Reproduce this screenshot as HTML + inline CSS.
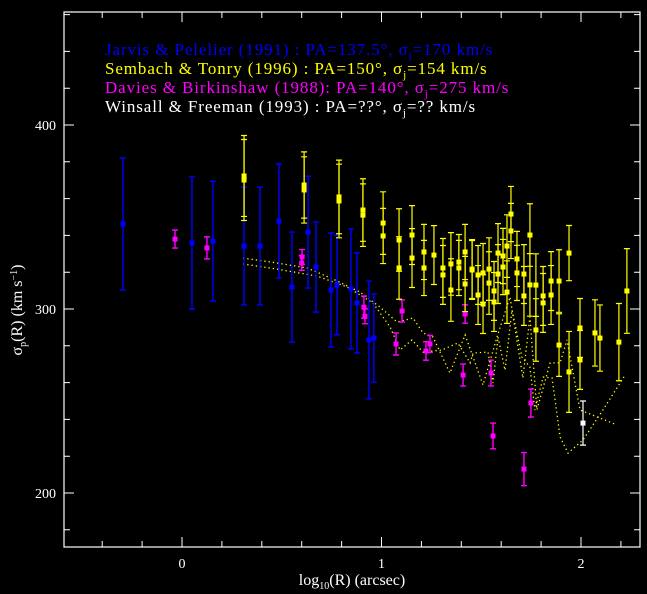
<!DOCTYPE html>
<html><head><meta charset="utf-8"><style>
html,body{margin:0;padding:0;background:#000;}
svg{display:block;font-family:"Liberation Serif",serif;}
</style></head><body>
<svg id="chart" width="647" height="594" viewBox="0 0 647 594" xmlns="http://www.w3.org/2000/svg">
<rect x="0" y="0" width="647" height="594" fill="#000"/>
<g id="axes"></g>
<g id="models"></g>
<g id="points"></g>
<g font-size="17" letter-spacing="0.9">
<text x="105" y="55" fill="#0000ff">Jarvis &amp; Pelelier (1991) : PA=137.5°, σ<tspan font-size="11" dy="4">j</tspan><tspan dy="-4">=170 km/s</tspan></text>
<text x="105" y="74" fill="#ffff00">Sembach &amp; Tonry (1996) : PA=150°, σ<tspan font-size="11" dy="4">j</tspan><tspan dy="-4">=154 km/s</tspan></text>
<text x="105" y="93" fill="#ff00ff">Davies &amp; Birkinshaw (1988): PA=140°, σ<tspan font-size="11" dy="4">j</tspan><tspan dy="-4">=275 km/s</tspan></text>
<text x="105" y="112" fill="#ffffff">Winsall &amp; Freeman (1993) : PA=??°, σ<tspan font-size="11" dy="4">j</tspan><tspan dy="-4">=?? km/s</tspan></text>
</g>
<text x="352" y="585" fill="#fff" font-size="16" text-anchor="middle">log<tspan font-size="10" dy="4">10</tspan><tspan dy="-4">(R) (arcsec)</tspan></text>
<text transform="translate(22,310) rotate(-90)" fill="#fff" font-size="16" text-anchor="middle">σ<tspan font-size="10" dy="4">p</tspan><tspan dy="-4">(R) (km s</tspan><tspan font-size="10" dy="-5">−1</tspan><tspan dy="5">)</tspan></text>
</svg>
<script>
const xTicks=[0,1,2];
const yTicks=[200,300,400];
// Jarvis & Pelletier (blue): x, sigma, error
const blueX=[-0.296,0.05,0.155,0.311,0.391,0.486,0.551,0.632,0.672,0.747,0.777,0.847,0.877,0.937,0.962];
const blueY=[346.2,335.9,336.9,334.2,334.2,347.8,311.9,341.8,322.8,310.3,313,310.9,303.3,283.2,284.2];
const blueE=[35.9,35.9,32.6,32,32,31,29.9,30.4,24.5,31,27,32.6,27.2,32,24];
// Davies & Birkinshaw (magenta)
const magX=[-0.035,0.125,0.602,0.6,0.912,0.917,1.073,1.103,1.223,1.243,1.409,1.419,1.549,1.559,1.714,1.749];
const magY=[338,333.2,328.3,325,301,296,281,298.9,277.2,281,264.1,297.3,265.2,231,213,248.9];
const magE=[4.9,6,4,4,6,4,6,6,5,4.6,6,5,7,7,9,7.6];
// Sembach & Tonry (yellow)
const yelX=[0.311,0.311,0.612,0.612,0.787,0.787,0.907,0.907,1.008,1.008,1.088,1.088,1.153,1.153,1.213,1.213,1.263,1.308,1.308,1.348,1.348,1.388,1.388,1.419,1.419,1.454,1.454,1.484,1.484,1.509,1.509,1.539,1.539,1.564,1.564,1.584,1.584,1.609,1.609,1.629,1.629,1.649,1.649,1.679,1.679,1.714,1.714,1.744,1.744,1.774,1.774,1.81,1.81,1.85,1.85,1.89,1.89,1.94,1.94,1.995,1.995,2.07,2.095,2.19,2.23];
const yelY=[372.3,370.1,367.4,364.7,360.9,358.7,353.8,351,346.7,339.7,337.5,322.3,340.2,327.7,331,322.3,329.3,322.3,318.5,324.5,310.3,325.5,322.3,331,313.6,321.7,321.2,318.5,307.6,319.6,302.7,321.7,314.1,309.8,303.8,330.4,319,328.8,322.8,334.2,309.2,351.6,342.4,327.2,319.6,319,307.1,340.2,313.1,313,288.6,307.1,303.3,315.2,307.6,315.2,280.4,330.4,265.8,289.7,272.3,287,284.2,282,309.8];
const yelE=[22,22,18,18,20,20,17,17,17,15,17,17,16,16,15,15,16,16,16,17,17,15,15,15,15,16,16,16,16,16,16,17,17,16,16,16,16,15,15,17,17,15,15,15,15,16,16,17,17,17,17,16,16,16,16,17,17,15,22,16,16,18,18,21,23];
// Winsall & Freeman (white)
const whiX=[2.01];
const whiY=[238];
const whiE=[12];
// model curves (dotted)
const m1X=[0.306,0.476,0.627,0.757,0.892,0.992,1.078,1.158,1.208,1.258,1.343,1.419,1.509,1.579,1.644,1.709,1.744,1.779,1.845,1.895,1.93,1.995,2.18];
const m1Y=[327.7,325,322.3,316.3,309.2,301.1,292.9,295.1,287,284.8,265.2,285.9,258.7,284.8,306.5,262.5,295.7,245.1,270.7,270.7,283.2,245.1,237];
const m2X=[0.306,0.476,0.677,0.827,0.957,1.043,1.093,1.153,1.208,1.303,1.383,1.444,1.459,1.534,1.559,1.584,1.619,1.654,1.704,1.744,1.769,1.81,1.855,1.895,1.935,2.01,2.11,2.221];
const m2Y=[324.5,321.7,317.9,312,303.3,290.2,277.7,283.2,276.6,277.7,281.5,270.7,276.1,276.6,259.8,284.8,266.8,299.5,273.9,268.5,245.1,263,262.5,230.4,221.7,228.8,245.1,264.1];

const L=64,R=640,T=12,B=547;
const X0=182,XS=199.5,Y0=309,YS=1.84;
function sx(v){return X0+v*XS;}
function sy(v){return Y0-(v-300)*YS;}
const NS='http://www.w3.org/2000/svg';
function mk(tag,attrs,parent){const e=document.createElementNS(NS,tag);for(const k in attrs)e.setAttribute(k,attrs[k]);parent.appendChild(e);return e;}
const axes=document.getElementById('axes');
const frame=mk('rect',{x:L,y:T,width:R-L,height:B-T,fill:'none',stroke:'#fff','stroke-width':1.2},axes);


for(let v=-0.4;v<=2.3;v+=0.2){const p=sx(v);if(p<L||p>R)continue;const major=Math.abs(v-Math.round(v))<1e-6;const len=major?10:6;
 const t=mk('path',{d:`M${p},${B}v${-len}M${p},${T}v${len}`,stroke:'#fff','stroke-width':1},axes);
 
 }
for(let v=180;v<=460;v+=20){const p=sy(v);if(p<T||p>B)continue;const major=v%100===0;const len=major?10:6;
 const t=mk('path',{d:`M${L},${p}h${len}M${R},${p}h${-len}`,stroke:'#fff','stroke-width':1},axes);
 
 }
xTicks.forEach(v=>{const t=mk('text',{x:sx(v),y:B+21,fill:'#fff','font-size':14,'text-anchor':'middle'},axes);t.textContent=v;
 
 });
yTicks.forEach(v=>{const t=mk('text',{x:L-8,y:sy(v)+5,fill:'#fff','font-size':14,'text-anchor':'end'},axes);t.textContent=v;
 
 });
const models=document.getElementById('models');
[[m1X,m1Y],[m2X,m2Y]].forEach(([xs,ys],i)=>{
 const d=xs.map((x,j)=>(j?'L':'M')+sx(x).toFixed(1)+','+sy(ys[j]).toFixed(1)).join('');
 const p=mk('path',{d:d,fill:'none',stroke:'#ffff00','stroke-width':1.3,'stroke-dasharray':'1.3 3'},models);
 
 
});
const pts=document.getElementById('points');
function series(xs,ys,es,col,name,w){
 xs.forEach((x,i)=>{const g=mk('g',{},pts);
  
  
  const px=sx(x),py=sy(ys[i]),e=es[i]*YS;
  mk('path',{d:`M${px},${py-e}V${py+e}M${px-3},${py-e}h6M${px-3},${py+e}h6`,stroke:col,'stroke-width':w},g);
  mk('rect',{x:px-2.5,y:py-2.5,width:5,height:5,fill:col},g);
 });
}
series(blueX,blueY,blueE,'#0000ff','jarvis',1.4);
series(magX,magY,magE,'#ff00ff','davies',1.4);
series(yelX,yelY,yelE,'#ffff00','sembach',1.2);
series(whiX,whiY,whiE,'#ffffff','winsall',1.2);
</script>
</body></html>
